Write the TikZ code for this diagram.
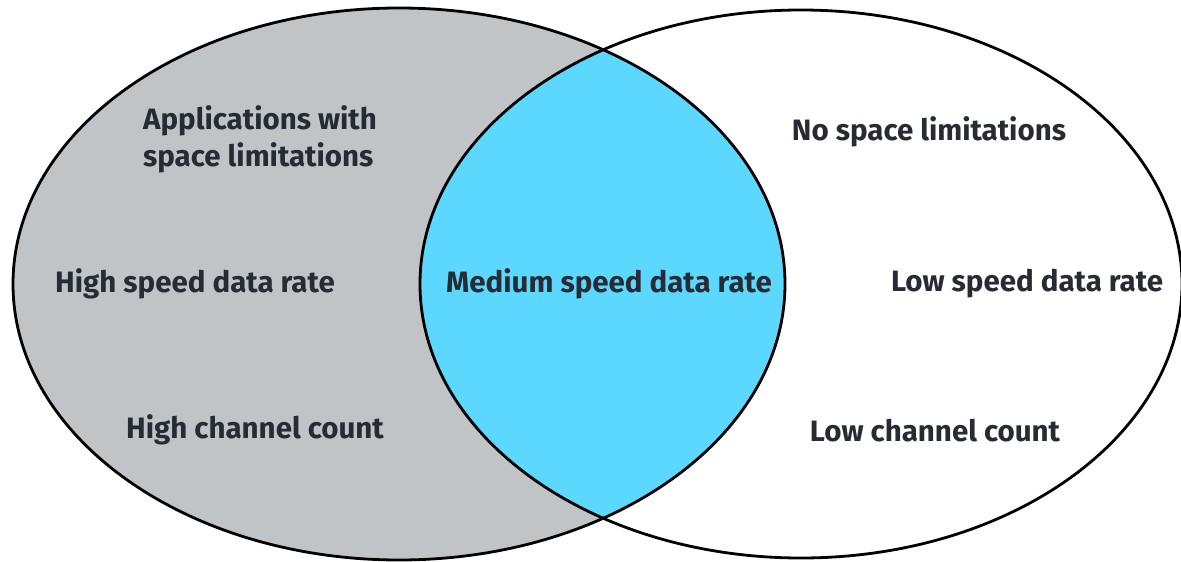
\documentclass[tikz,border=0pt]{standalone}
\usepackage{fontspec}
\setmainfont{Fira Sans}
\definecolor{setgray}{HTML}{C1C4C7}
\definecolor{setcyan}{HTML}{5CD8FF}
\definecolor{labelink}{HTML}{272B33}
\tikzset{
    setlabel/.style={text=labelink, font=\fontsize{29.5}{37}\selectfont\bfseries, inner sep=0pt},
    setline/.style={draw=black, line width=2.8pt}
}
\begin{document}
\begin{tikzpicture}[x=1pt,y=-1pt]
            \useasboundingbox (0,0) rectangle (1181,562);
            \fill[setgray] (399,284) ellipse (386 and 276);
            \begin{scope}
                \clip (399,284) ellipse (386 and 276);
                \fill[setcyan] (801,284) ellipse (381 and 274);
            \end{scope}
            \draw[setline] (399,284) ellipse (386 and 276);
            \draw[setline] (801,284) ellipse (381 and 274);
            \node[setlabel, align=left] (appl) at (260,139) {Applications with\\space limitations};
            \node[setlabel] (highrate) at (195,284) {High speed data rate};
            \node[setlabel] (highcount) at (255,430) {High channel count};
            \node[setlabel] (medrate) at (609,284) {Medium speed data rate};
            \node[setlabel] (nolimit) at (929,132) {No space limitations};
            \node[setlabel] (lowrate) at (1027,284) {Low speed data rate};
            \node[setlabel] (lowcount) at (935,431) {Low channel count};
        \end{tikzpicture}
\end{document}
